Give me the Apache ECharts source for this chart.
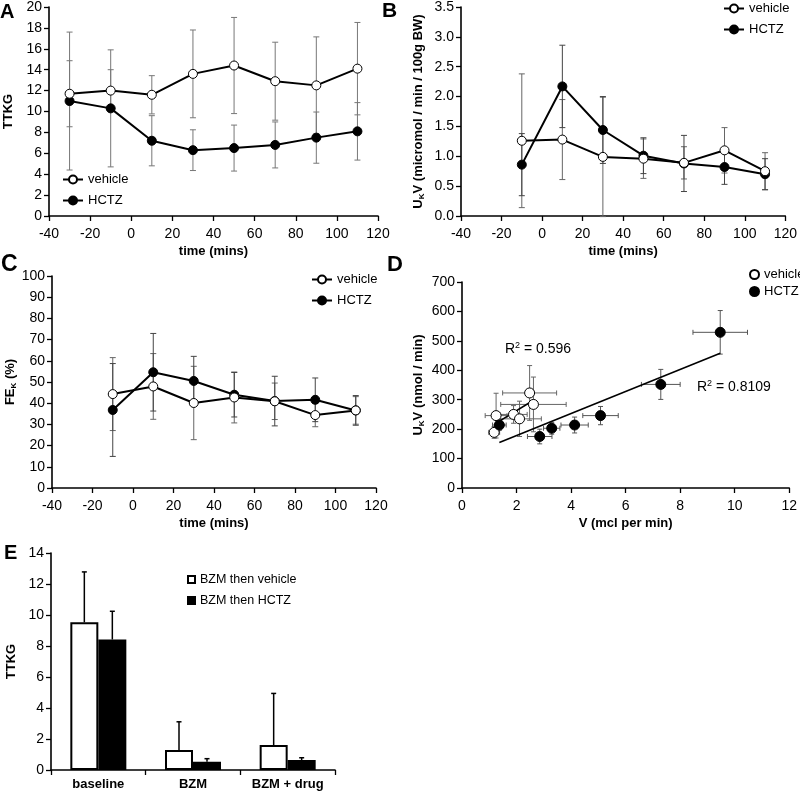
<!DOCTYPE html>
<html><head><meta charset="utf-8">
<script src="https://cdn.jsdelivr.net/npm/echarts@6/dist/echarts.min.js"></script>
<style>html,body{margin:0;padding:0;background:#fff}#c{width:800px;height:792px}</style>
</head><body><div id="c"></div>
<script>
// ---------- Panel A: TTKG vs time ----------
const timeA = [-30, -10, 10, 30, 50, 70, 90, 110];
const ttkgVehicle = [11.7, 12.0, 11.6, 13.6, 14.4, 12.9, 12.5, 14.1];
const ttkgVehicleErr = [3.16, 2.0, 1.83, 4.2, 4.6, 3.73, 4.64, 4.42];
const ttkgHctz = [11.0, 10.3, 7.2, 6.3, 6.5, 6.8, 7.5, 8.1];
const ttkgHctzErr = [6.6, 5.6, 2.4, 1.95, 2.2, 2.2, 2.45, 2.75];

// ---------- Panels B, C: time points ----------
const timeBC = [-10, 10, 30, 50, 70, 90, 110];
const ukvVehicle = [1.26, 1.28, 0.99, 0.96, 0.89, 1.10, 0.75];
const ukvVehicleErr = [1.12, 0.67, 1.0, 0.33, 0.27, 0.38, 0.31];
const ukvHctz = [0.86, 2.17, 1.44, 1.01, 0.88, 0.82, 0.70];
const ukvHctzErr = [0.52, 0.69, 0.56, 0.30, 0.47, 0.29, 0.26];

const feVehicle = [44.3, 47.9, 40.1, 42.7, 40.9, 34.4, 36.6];
const feVehicleErr = [17.2, 15.5, 17.3, 12, 8.6, 5.5, 6.5];
const feHctz = [36.8, 54.6, 50.5, 44.0, 41.0, 41.6, 36.6];
const feHctzErr = [21.9, 18.3, 11.6, 10.5, 11.7, 10.3, 7];

// ---------- Panel D: UkV vs V ----------
const vVehicle = [1.18, 1.25, 1.89, 2.11, 2.48, 2.62];
const vVehicleErr = [0.2, 0.4, 0.5, 0.8, 0.99, 1.2];
const ukvnVehicle = [189, 246, 250, 235, 323, 284];
const ukvnVehicleErr = [20, 76, 30, 60, 93, 93];
const vHctz = [1.37, 2.85, 3.29, 4.13, 5.08, 7.29, 9.47];
const vHctzErr = [0.25, 0.45, 0.3, 0.5, 0.65, 0.71, 1.0];
const ukvnHctz = [214, 175, 203, 214, 246, 352, 529];
const ukvnHctzErr = [18, 25, 20, 27, 31, 51, 74];
const trendVehicleX = [1.21, 2.62];
const trendVehicleY = [218, 298];
const trendHctzX = [1.37, 9.47];
const trendHctzY = [155, 458];
const r2Vehicle = '0.596';
const r2Hctz = '0.8109';

// ---------- Panel E: bars ----------
const eCategories = ['baseline', 'BZM', 'BZM + drug'];
const eVehicle = [9.53, 1.29, 1.61];
const eVehicleErr = [3.25, 1.82, 3.33];
const eHctz = [8.42, 0.54, 0.64];
const eHctzErr = [1.82, 0.19, 0.15];

// ---------- helpers ----------
const FONT = '"Liberation Sans", Arial, sans-serif';
const TICK_FS = 14;
const zip = (a, b) => a.map((v, i) => [v, b[i]]);
const errData = (xs, ys, es) => xs.map((x, i) => [x, ys[i] - es[i], ys[i] + es[i]]);

const axisLine = { show: true, onZero: false, lineStyle: { color: '#000', width: 1.6 } };
const axisTick = { show: true, length: 5, lineStyle: { color: '#000', width: 1.3 } };
const nameStyle = { fontFamily: FONT, fontWeight: 'bold', fontSize: 13, color: '#000' };
const richName = {
  a: { fontFamily: FONT, fontWeight: 'bold', fontSize: 13, color: '#000' },
  s: { fontFamily: FONT, fontWeight: 'bold', fontSize: 8, color: '#000', verticalAlign: 'bottom', lineHeight: 15 }
};

function xVal(gi, min, max, interval, name) {
  return {
    type: 'value', gridIndex: gi, min, max, interval,
    axisLine, axisTick, splitLine: { show: false },
    axisLabel: { color: '#000', fontSize: TICK_FS, fontFamily: FONT, margin: 11 },
    name, nameLocation: 'middle', nameGap: 29, nameTextStyle: nameStyle
  };
}
function yVal(gi, min, max, interval, name, gap, fmt) {
  return {
    type: 'value', gridIndex: gi, min, max, interval,
    axisLine, axisTick, splitLine: { show: false },
    axisLabel: { color: '#000', fontSize: TICK_FS, fontFamily: FONT, margin: 7, formatter: fmt },
    name, nameLocation: 'middle', nameGap: gap, nameRotate: 90,
    nameTextStyle: Object.assign({}, nameStyle, { rich: richName })
  };
}

function vBar(color, cap) {
  return function (params, api) {
    const x = api.value(0);
    const lo = api.coord([x, api.value(1)]);
    const hi = api.coord([x, api.value(2)]);
    const st = { stroke: color, lineWidth: 1 };
    return { type: 'group', children: [
      { type: 'line', shape: { x1: lo[0], y1: lo[1], x2: hi[0], y2: hi[1] }, style: st },
      { type: 'line', shape: { x1: lo[0] - cap, y1: lo[1], x2: lo[0] + cap, y2: lo[1] }, style: st },
      { type: 'line', shape: { x1: hi[0] - cap, y1: hi[1], x2: hi[0] + cap, y2: hi[1] }, style: st }
    ] };
  };
}
function xyBar(color, cap) {
  return function (params, api) {
    const x = api.value(0), y = api.value(1), xe = api.value(2), ye = api.value(3);
    const l = api.coord([x - xe, y]), r = api.coord([x + xe, y]);
    const t = api.coord([x, y + ye]), b = api.coord([x, y - ye]);
    const st = { stroke: color, lineWidth: 1 };
    return { type: 'group', children: [
      { type: 'line', shape: { x1: l[0], y1: l[1], x2: r[0], y2: r[1] }, style: st },
      { type: 'line', shape: { x1: t[0], y1: t[1], x2: b[0], y2: b[1] }, style: st },
      { type: 'line', shape: { x1: l[0], y1: l[1] - cap, x2: l[0], y2: l[1] + cap }, style: st },
      { type: 'line', shape: { x1: r[0], y1: r[1] - cap, x2: r[0], y2: r[1] + cap }, style: st },
      { type: 'line', shape: { x1: t[0] - cap, y1: t[1], x2: t[0] + cap, y2: t[1] }, style: st },
      { type: 'line', shape: { x1: b[0] - cap, y1: b[1], x2: b[0] + cap, y2: b[1] }, style: st }
    ] };
  };
}
function barErr(dx, cap) {
  return function (params, api) {
    const c = api.value(0);
    const p1 = api.coord([c, api.value(1)]);
    const p2 = api.coord([c, api.value(2)]);
    const x = p1[0] + dx;
    const st = { stroke: '#000', lineWidth: 1.5 };
    return { type: 'group', children: [
      { type: 'line', shape: { x1: x, y1: p1[1], x2: x, y2: p2[1] }, style: st },
      { type: 'line', shape: { x1: x - cap, y1: p2[1], x2: x + cap, y2: p2[1] }, style: st }
    ] };
  };
}

function errSeries(i, xs, ys, es, color) {
  return { type: 'custom', xAxisIndex: i, yAxisIndex: i, data: errData(xs, ys, es),
    encode: { x: 0, y: [1, 2] }, renderItem: vBar(color, 3), z: 1, silent: true };
}
const vehStyle = { color: '#fff', borderColor: '#000', borderWidth: 1, opacity: 1 };
const hctzStyle = { color: '#000', borderColor: '#000', borderWidth: 1, opacity: 1 };
function lineSeries(i, name, xs, ys, style) {
  return { type: 'line', name, xAxisIndex: i, yAxisIndex: i, data: zip(xs, ys),
    symbol: 'circle', symbolSize: 9, itemStyle: style,
    lineStyle: { color: '#000', width: 2 }, z: 3, emphasis: { disabled: true } };
}

const legendText = { fontFamily: FONT, fontSize: 13, color: '#000' };
function lineLegend(left, top) {
  return { data: ['vehicle', 'HCTZ'], orient: 'vertical', left, top, itemWidth: 20, itemHeight: 10,
    itemGap: 8, textStyle: legendText, selectedMode: false, padding: 0 };
}

const option = {
  animation: false,
  backgroundColor: '#fff',
  grid: [
    { left: 49, top: 5, width: 329, height: 211 },
    { left: 461, top: 5, width: 326, height: 211 },
    { left: 52, top: 276, width: 324, height: 212 },
    { left: 462, top: 282, width: 328, height: 206 },
    { left: 51, top: 553, width: 284, height: 217 }
  ],
  xAxis: [
    xVal(0, -40, 120, 20, 'time (mins)'),
    xVal(1, -40, 120, 20, 'time (mins)'),
    xVal(2, -40, 120, 20, 'time (mins)'),
    xVal(3, 0, 12, 2, 'V (mcl per min)'),
    { type: 'category', gridIndex: 4, data: eCategories, axisLine, axisTick,
      axisLabel: { color: '#000', fontSize: 13, fontFamily: FONT, fontWeight: 'bold', margin: 8 } }
  ],
  yAxis: [
    yVal(0, 0, 20, 2, 'TTKG', 34),
    yVal(1, 0, 3.5, 0.5, '{a|U}{s|K}{a|V (micromol / min / 100g BW)}', 35, v => v.toFixed(1)),
    yVal(2, 0, 100, 10, '{a|FE}{s|K}{a| (%)}', 34),
    yVal(3, 0, 700, 100, '{a|U}{s|K}{a|V (nmol / min)}', 36),
    yVal(4, 0, 14, 2, 'TTKG', 33)
  ],
  legend: [
    lineLegend(62, 173),
    lineLegend(723, 2),
    lineLegend(311, 273),
    { data: ['D vehicle', 'D HCTZ'], orient: 'vertical', left: 749, top: 268, itemWidth: 9, itemHeight: 9,
      itemGap: 4, textStyle: legendText, selectedMode: false, padding: 0, formatter: n => n.replace('D ', '') },
    { data: ['BZM then vehicle', 'BZM then HCTZ'], orient: 'vertical', left: 187, top: 573, itemWidth: 7, itemHeight: 7,
      itemGap: 8, icon: 'rect', textStyle: { fontFamily: FONT, fontSize: 12.5, color: '#000' }, selectedMode: false, padding: 0 }
  ],
  graphic: [
    { type: 'text', left: 0, top: 2, style: { text: 'A', font: 'bold 20px ' + FONT, fill: '#000' } },
    { type: 'text', left: 382, top: 1, style: { text: 'B', font: 'bold 21px ' + FONT, fill: '#000' } },
    { type: 'text', left: 1, top: 253, style: { text: 'C', font: 'bold 23px ' + FONT, fill: '#000' } },
    { type: 'text', left: 387, top: 254, style: { text: 'D', font: 'bold 22px ' + FONT, fill: '#000' } },
    { type: 'text', left: 4, top: 543, style: { text: 'E', font: 'bold 20px ' + FONT, fill: '#000' } },
    { type: 'text', left: 505, top: 341, style: { text: '{a|R}{s|2}{a| = ' + r2Vehicle + '}',
      rich: { a: { fontFamily: FONT, fontSize: 14, fill: '#000', color: '#000', lineHeight: 17 },
              s: { fontFamily: FONT, fontSize: 9, fill: '#000', color: '#000', verticalAlign: 'top', lineHeight: 17 } } } },
    { type: 'text', left: 697, top: 379, style: { text: '{a|R}{s|2}{a| = ' + r2Hctz + '}',
      rich: { a: { fontFamily: FONT, fontSize: 14, fill: '#000', color: '#000', lineHeight: 17 },
              s: { fontFamily: FONT, fontSize: 9, fill: '#000', color: '#000', verticalAlign: 'top', lineHeight: 17 } } } }
  ],
  series: [
    // A
    errSeries(0, timeA, ttkgVehicle, ttkgVehicleErr, '#777'),
    errSeries(0, timeA, ttkgHctz, ttkgHctzErr, '#777'),
    lineSeries(0, 'HCTZ', timeA, ttkgHctz, hctzStyle),
    lineSeries(0, 'vehicle', timeA, ttkgVehicle, vehStyle),
    // B
    errSeries(1, timeBC, ukvVehicle, ukvVehicleErr, '#666'),
    errSeries(1, timeBC, ukvHctz, ukvHctzErr, '#444'),
    lineSeries(1, 'HCTZ', timeBC, ukvHctz, hctzStyle),
    lineSeries(1, 'vehicle', timeBC, ukvVehicle, vehStyle),
    // C
    errSeries(2, timeBC, feVehicle, feVehicleErr, '#666'),
    errSeries(2, timeBC, feHctz, feHctzErr, '#444'),
    lineSeries(2, 'HCTZ', timeBC, feHctz, hctzStyle),
    lineSeries(2, 'vehicle', timeBC, feVehicle, vehStyle),
    // D
    { type: 'custom', xAxisIndex: 3, yAxisIndex: 3, silent: true, z: 1,
      data: vVehicle.map((x, i) => [x, ukvnVehicle[i], vVehicleErr[i], ukvnVehicleErr[i]]),
      encode: { x: 0, y: 1 }, renderItem: xyBar('#666', 2.5) },
    { type: 'custom', xAxisIndex: 3, yAxisIndex: 3, silent: true, z: 1,
      data: vHctz.map((x, i) => [x, ukvnHctz[i], vHctzErr[i], ukvnHctzErr[i]]),
      encode: { x: 0, y: 1 }, renderItem: xyBar('#555', 2.5) },
    { type: 'line', xAxisIndex: 3, yAxisIndex: 3, data: zip(trendVehicleX, trendVehicleY), symbol: 'none',
      lineStyle: { color: '#000', width: 1.6 }, z: 2, silent: true },
    { type: 'line', xAxisIndex: 3, yAxisIndex: 3, data: zip(trendHctzX, trendHctzY), symbol: 'none',
      lineStyle: { color: '#000', width: 1.6 }, z: 2, silent: true },
    { type: 'scatter', name: 'D vehicle', xAxisIndex: 3, yAxisIndex: 3, data: zip(vVehicle, ukvnVehicle),
      symbol: 'circle', symbolSize: 10, itemStyle: vehStyle, z: 3, emphasis: { disabled: true } },
    { type: 'scatter', name: 'D HCTZ', xAxisIndex: 3, yAxisIndex: 3, data: zip(vHctz, ukvnHctz),
      symbol: 'circle', symbolSize: 10, itemStyle: hctzStyle, z: 3, emphasis: { disabled: true } },
    // E
    { type: 'bar', name: 'BZM then vehicle', xAxisIndex: 4, yAxisIndex: 4, data: eVehicle, barWidth: 28, barGap: '0%',
      itemStyle: { color: '#fff', borderColor: '#000', borderWidth: 2 }, z: 2, emphasis: { disabled: true } },
    { type: 'bar', name: 'BZM then HCTZ', xAxisIndex: 4, yAxisIndex: 4, data: eHctz, barWidth: 28, barGap: '0%',
      itemStyle: { color: '#000', borderColor: '#000', borderWidth: 2 }, z: 2, emphasis: { disabled: true } },
    { type: 'custom', xAxisIndex: 4, yAxisIndex: 4, silent: true, z: 3,
      data: eVehicle.map((v, i) => [i, v, v + eVehicleErr[i]]), encode: { x: 0, y: [1, 2] }, renderItem: barErr(-14, 2.5) },
    { type: 'custom', xAxisIndex: 4, yAxisIndex: 4, silent: true, z: 3,
      data: eHctz.map((v, i) => [i, v, v + eHctzErr[i]]), encode: { x: 0, y: [1, 2] }, renderItem: barErr(14, 2.5) }
  ]
};

const chart = echarts.init(document.getElementById('c'), null, { renderer: 'canvas' });
chart.setOption(option);
</script></body></html>
